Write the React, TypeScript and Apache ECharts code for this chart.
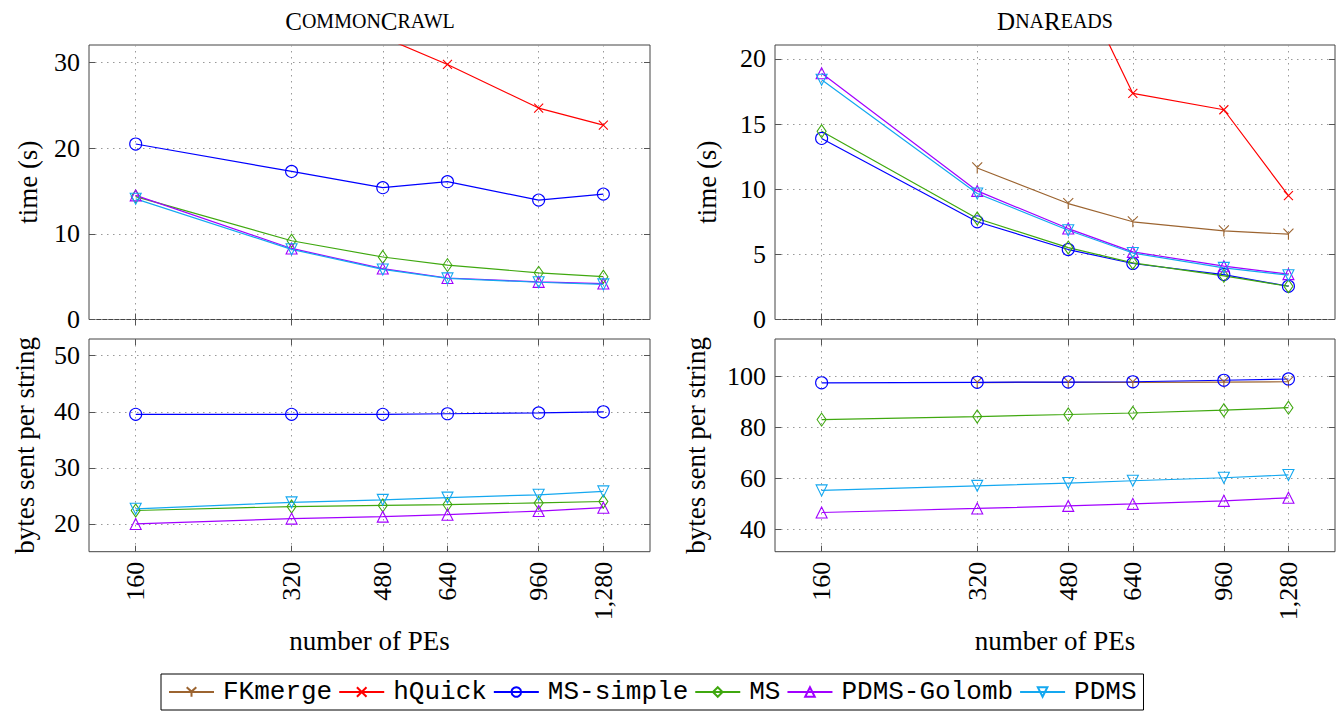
import React, { useEffect, useRef } from 'react';
import * as echarts from 'echarts';

// x values (number of PEs)
const peCounts = [160, 320, 480, 640, 960, 1280];
const seriesNames = ['FKmerge', 'hQuick', 'MS-simple', 'MS', 'PDMS-Golomb', 'PDMS'];

// CommonCrawl – time (s)
const ccTimeHQuick = [58, 41, 33.0, 29.8, 24.7, 22.7];
const ccTimeMSSimple = [20.5, 17.3, 15.4, 16.1, 13.95, 14.65];
const ccTimeMS = [14.35, 9.2, 7.3, 6.35, 5.45, 5.0];
const ccTimePDMSGolomb = [14.5, 8.3, 5.95, 4.85, 4.4, 4.2];
const ccTimePDMS = [14.1, 8.2, 5.85, 4.8, 4.35, 4.1];

// CommonCrawl – bytes sent per string
const ccBytesMSSimple = [39.55, 39.55, 39.55, 39.65, 39.8, 40.0];
const ccBytesMS = [22.4, 23.1, 23.3, 23.45, 23.75, 24.0];
const ccBytesPDMSGolomb = [20.0, 20.95, 21.3, 21.65, 22.3, 22.9];
const ccBytesPDMS = [22.7, 23.85, 24.3, 24.7, 25.2, 25.8];

// DnaReads – time (s)
const dnaTimeFKmerge = [null, 11.63, 8.9, 7.5, 6.8, 6.55];
const dnaTimeHQuick = [75, 45, 27.6, 17.35, 16.1, 9.5];
const dnaTimeMSSimple = [13.9, 7.5, 5.37, 4.3, 3.45, 2.55];
const dnaTimeMS = [14.45, 7.75, 5.52, 4.35, 3.35, 2.55];
const dnaTimePDMSGolomb = [18.9, 9.87, 6.98, 5.19, 4.09, 3.48];
const dnaTimePDMS = [18.4, 9.67, 6.85, 5.1, 3.96, 3.4];

// DnaReads – bytes sent per string
const dnaBytesFKmerge = [null, 97.7, 97.8, 97.8, 97.9, 98.0];
const dnaBytesMSSimple = [97.6, 97.8, 97.9, 98.0, 98.6, 99.1];
const dnaBytesMS = [83.1, 84.3, 85.1, 85.7, 86.8, 87.8];
const dnaBytesPDMSGolomb = [46.5, 48.1, 49.1, 49.9, 51.1, 52.3];
const dnaBytesPDMS = [55.2, 57.0, 58.1, 59.0, 60.2, 61.3];

// y tick labels
const ccTimeTicks = [0, 10, 20, 30];
const ccBytesTicks = [20, 30, 40, 50];
const dnaTimeTicks = [0, 5, 10, 15, 20];
const dnaBytesTicks = [40, 60, 80, 100];

const SERIF = 'Liberation Serif';
const MONO = 'Liberation Mono';

const styleFor: Record<string, any> = {
  FKmerge: { color: '#9c6430', symbol: 'path://M0,0L5,5L10,0M5,5L5,11', size: 11, rotate: 0 },
  hQuick: { color: '#ff0000', symbol: 'path://M0,0L10,10M10,0L0,10', size: 9, rotate: 0 },
  'MS-simple': { color: '#0000ff', symbol: 'circle', size: 12, rotate: 0 },
  MS: { color: '#3fa80f', symbol: 'diamond', size: [9, 13], rotate: 0 },
  'PDMS-Golomb': { color: '#a100ff', symbol: 'triangle', size: 11, rotate: 0 },
  PDMS: { color: '#14a8f0', symbol: 'triangle', size: 11, rotate: 180 },
};

function pairs(values: (number | null)[]) {
  const out: [number, number][] = [];
  values.forEach((v, i) => {
    if (v !== null) out.push([peCounts[i], v]);
  });
  return out;
}

function mkSeries(name: string, grid: number, values: (number | null)[]) {
  const s = styleFor[name];
  return {
    type: 'line',
    name,
    xAxisIndex: grid * 2,
    yAxisIndex: grid * 2,
    data: pairs(values),
    symbol: s.symbol,
    symbolSize: s.size,
    symbolRotate: s.rotate,
    symbolKeepAspect: true,
    showAllSymbol: true,
    clip: true,
    lineStyle: { color: s.color, width: 1.2 },
    itemStyle: { color: 'rgba(0,0,0,0)', borderColor: s.color, borderWidth: 1.1 },
    emphasis: { disabled: true },
  };
}

const grids = [
  { left: 89, top: 45, width: 561, height: 274.5 },
  { left: 89, top: 339, width: 561, height: 212.7 },
  { left: 775, top: 45, width: 560, height: 274.5 },
  { left: 775, top: 339, width: 560, height: 212.7 },
];

const yCfg = [
  { min: 0, max: 32.07, ticks: ccTimeTicks, name: 'time (s)', gap: 48 },
  { min: 15.05, max: 52.98, ticks: ccBytesTicks, name: 'bytes sent per string', gap: 51 },
  { min: 0, max: 21.07, ticks: dnaTimeTicks, name: 'time (s)', gap: 55 },
  { min: 31.06, max: 114.85, ticks: dnaBytesTicks, name: 'bytes sent per string', gap: 66 },
];

const tickLine = { color: '#555', width: 1 };
const gridLine = { color: '#999', width: 1, type: [1.5, 4.5] as any };

function buildOption() {
  const xAxis: any[] = [];
  const yAxis: any[] = [];
  grids.forEach((_, i) => {
    const bottom = i === 1 || i === 3;
    xAxis.push({
      type: 'log',
      logBase: 10,
      gridIndex: i,
      min: 130,
      max: 1575,
      position: 'bottom',
      axisLine: { show: false },
      axisTick: { show: true, inside: true, length: 6, customValues: peCounts, lineStyle: tickLine },
      axisLabel: {
        show: bottom,
        customValues: peCounts,
        rotate: 90,
        margin: 10,
        fontFamily: SERIF,
        fontSize: 26,
        color: '#000',
        formatter: (v: number) => Math.round(v).toLocaleString('en-US'),
      },
      splitLine: { show: true, lineStyle: gridLine },
      minorTick: { show: false },
      minorSplitLine: { show: false },
      name: bottom ? 'number of PEs' : '',
      nameLocation: 'middle',
      nameGap: 76,
      nameTextStyle: { fontFamily: SERIF, fontSize: 27, color: '#000' },
    });
    xAxis.push({
      type: 'log',
      logBase: 10,
      gridIndex: i,
      min: 130,
      max: 1575,
      position: 'top',
      axisLine: { show: false },
      axisTick: { show: true, inside: true, length: 6, customValues: peCounts, lineStyle: tickLine },
      axisLabel: { show: false },
      splitLine: { show: false },
    });
    const y = yCfg[i];
    yAxis.push({
      type: 'value',
      gridIndex: i,
      min: y.min,
      max: y.max,
      position: 'left',
      axisLine: { show: false },
      axisTick: { show: true, inside: true, length: 6, customValues: y.ticks, lineStyle: tickLine },
      axisLabel: { show: true, customValues: y.ticks, margin: 9, fontFamily: SERIF, fontSize: 26, color: '#000' },
      splitLine: { show: true, lineStyle: gridLine },
      name: y.name,
      nameLocation: 'middle',
      nameGap: y.gap,
      nameTextStyle: { fontFamily: SERIF, fontSize: 27, color: '#000' },
    });
    yAxis.push({
      type: 'value',
      gridIndex: i,
      min: y.min,
      max: y.max,
      position: 'right',
      axisLine: { show: false },
      axisTick: { show: true, inside: true, length: 6, customValues: y.ticks, lineStyle: tickLine },
      axisLabel: { show: false },
      splitLine: { show: false },
    });
  });

  const series: any[] = [
    mkSeries('hQuick', 0, ccTimeHQuick),
    mkSeries('MS-simple', 0, ccTimeMSSimple),
    mkSeries('MS', 0, ccTimeMS),
    mkSeries('PDMS-Golomb', 0, ccTimePDMSGolomb),
    mkSeries('PDMS', 0, ccTimePDMS),
    mkSeries('MS-simple', 1, ccBytesMSSimple),
    mkSeries('MS', 1, ccBytesMS),
    mkSeries('PDMS-Golomb', 1, ccBytesPDMSGolomb),
    mkSeries('PDMS', 1, ccBytesPDMS),
    mkSeries('FKmerge', 2, dnaTimeFKmerge),
    mkSeries('hQuick', 2, dnaTimeHQuick),
    mkSeries('MS-simple', 2, dnaTimeMSSimple),
    mkSeries('MS', 2, dnaTimeMS),
    mkSeries('PDMS-Golomb', 2, dnaTimePDMSGolomb),
    mkSeries('PDMS', 2, dnaTimePDMS),
    mkSeries('FKmerge', 3, dnaBytesFKmerge),
    mkSeries('MS-simple', 3, dnaBytesMSSimple),
    mkSeries('MS', 3, dnaBytesMS),
    mkSeries('PDMS-Golomb', 3, dnaBytesPDMSGolomb),
    mkSeries('PDMS', 3, dnaBytesPDMS),
  ];

  const titleRich = {
    a: { fontFamily: SERIF, fontSize: 25, fill: '#000' },
    b: { fontFamily: SERIF, fontSize: 20, fill: '#000' },
  };

  return {
    animation: false,
    backgroundColor: '#fff',
    grid: grids.map((g) => ({ ...g, show: true, borderColor: '#444', borderWidth: 1, backgroundColor: 'transparent', containLabel: false })),
    xAxis,
    yAxis,
    series,
    legend: {
      data: seriesNames,
      left: 161,
      top: 674,
      orient: 'horizontal',
      padding: [5, 7],
      itemGap: 6,
      itemWidth: 45,
      itemHeight: 12,
      borderColor: '#000',
      borderWidth: 1,
      selectedMode: false,
      textStyle: { fontFamily: MONO, fontSize: 26, color: '#000', padding: [0, 0, 0, 4] },
    },
    graphic: [
      {
        type: 'text',
        x: 370,
        y: 21,
        style: { text: '{a|C}{b|OMMON}{a|C}{b|RAWL}', rich: titleRich, textAlign: 'center', textVerticalAlign: 'middle' },
      },
      {
        type: 'text',
        x: 1055,
        y: 21,
        style: { text: '{a|D}{b|NA}{a|R}{b|EADS}', rich: titleRich, textAlign: 'center', textVerticalAlign: 'middle' },
      },
    ],
  };
}

export default function App() {
  const ref = useRef<HTMLDivElement>(null);
  useEffect(() => {
    if (!ref.current) return;
    const chart = echarts.init(ref.current, undefined, { renderer: 'svg' });
    chart.setOption(buildOption() as any);
    return () => chart.dispose();
  }, []);
  return <div ref={ref} style={{ position: 'absolute', left: 0, top: 0, width: 1337, height: 715 }} />;
}
